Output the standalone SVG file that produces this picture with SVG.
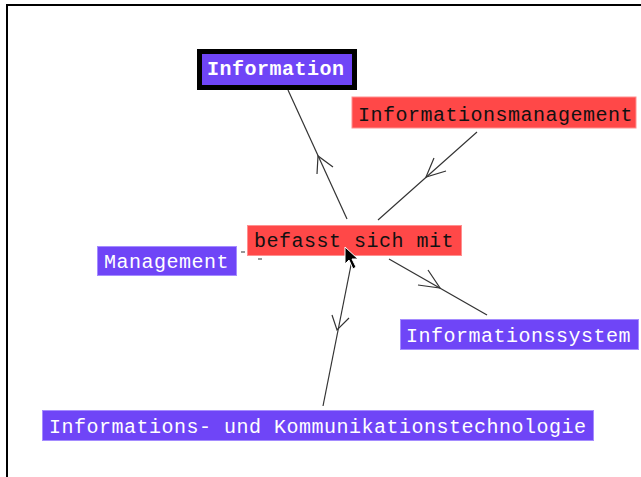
<svg xmlns="http://www.w3.org/2000/svg" width="641" height="477" viewBox="0 0 641 477">
<style>
.t{font-family:"Liberation Mono","DejaVu Sans Mono",monospace;font-size:20px;letter-spacing:0.5px}
.pu{fill:#6f45f7;stroke:#a58cff;stroke-width:1}
.rd{fill:#ff4848;stroke:#ff9090;stroke-width:1}
.w{fill:#ffffff}
.b{fill:#111111}
.c{stroke:#333333;stroke-width:1.2;fill:none}
</style>
<rect width="641" height="477" fill="#ffffff"/>
<path d="M7,477 V5 H641" fill="none" stroke="#000000" stroke-width="2"/>
<g id="connectors">
<path class="c" d="M347,219 L288,90"/>
<path class="c" d="M317,174 L318,156 L333,167"/>
<path class="c" d="M477,132 L378,220"/>
<path class="c" d="M434,158 L426,177 L446,171"/>
<path class="c" d="M389,259 L487,315"/>
<path class="c" d="M428,270 L440,288 L418,285"/>
<path class="c" d="M352,260 L323,406"/>
<path class="c" d="M332,315 L337,330 L349,318"/>
<path class="c" d="M241,252 H245 M258,259 H262"/>
</g>
<g id="node-information">
<rect x="199.5" y="51.5" width="155" height="36" fill="#6f45f7" stroke="#000000" stroke-width="5"/>
<text class="t w" x="207" y="75" font-weight="bold">Information</text>
</g>
<g id="node-informationsmanagement">
<rect class="rd" x="352" y="97" width="284" height="31"/>
<text class="t b" x="358" y="121">Informationsmanagement</text>
</g>
<g id="node-befasst">
<rect class="rd" x="247.5" y="225.5" width="214" height="30"/>
<text class="t b" x="254" y="247">befasst sich mit</text>
</g>
<g id="node-management">
<rect class="pu" x="97.5" y="246.5" width="139" height="29"/>
<text class="t w" x="104" y="268">Management</text>
</g>
<g id="node-informationssystem">
<rect class="pu" x="400.5" y="319.5" width="238" height="30"/>
<text class="t w" x="406" y="342">Informationssystem</text>
</g>
<g id="node-iuk">
<rect class="pu" x="42.5" y="410.5" width="551" height="30"/>
<text class="t w" x="49" y="433">Informations- und Kommunikationstechnologie</text>
</g>
<g id="cursor">
<path d="M345,247 L345,264 L349,260 L353,269 L356,267 L352,259 L358,259 Z" fill="#000000" stroke="#ffffff" stroke-width="1"/>
</g>
</svg>
